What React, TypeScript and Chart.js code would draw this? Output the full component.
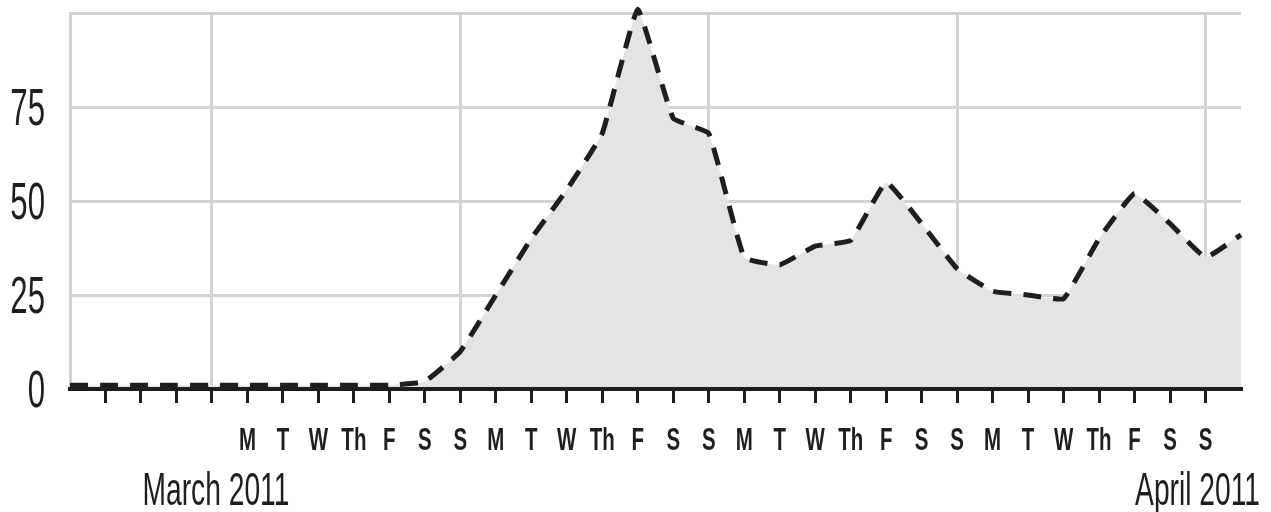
import React, { useEffect, useRef } from 'react';
import { Chart, registerables } from 'chart.js';

Chart.register(...registerables);

// Day-of-week tick labels (one per day, first days unlabeled)
const dayLabels: string[] = [
  '', '', '', '', '',
  'M', 'T', 'W', 'Th', 'F', 'S', 'S',
  'M', 'T', 'W', 'Th', 'F', 'S', 'S',
  'M', 'T', 'W', 'Th', 'F', 'S', 'S',
  'M', 'T', 'W', 'Th', 'F', 'S', 'S',
  '',
];

// Daily values
const dailyValues: number[] = [
  1, 1, 1, 1, 1, 1, 1, 1, 1, 1,
  2, 10, 25, 40, 53, 68, 101, 72, 68, 35,
  33, 38, 39.5, 55, 44, 32, 26, 25, 24, 40,
  52, 44, 35, 41,
];

const yTickValues: number[] = [0, 25, 50, 75, 100];
const yTickLabels: string[] = ['0', '25', '50', '75', ''];

const monthLabels: string[] = ['March 2011', 'April 2011'];

const FONT = "'Liberation Sans', Arial, sans-serif";
const GRID = '#d3d3d3';
const INK = '#1e1e1e';

function squeezedText(
  ctx: CanvasRenderingContext2D,
  text: string,
  x: number,
  y: number,
  align: 'left' | 'center' | 'right',
  squeeze: number,
) {
  const w = ctx.measureText(text).width * squeeze;
  let left = x;
  if (align === 'center') left = x - w / 2;
  else if (align === 'right') left = x - w;
  ctx.save();
  ctx.translate(left, y);
  ctx.scale(squeeze, 1);
  ctx.textAlign = 'left';
  ctx.fillText(text, 0, 0);
  ctx.restore();
}

const labelPlugin = {
  id: 'condensedLabels',
  afterDraw(chart: any) {
    const { ctx } = chart;
    const xs = chart.scales.x;
    const ys = chart.scales.y;
    const area = chart.chartArea;
    ctx.save();
    ctx.fillStyle = INK;
    ctx.textBaseline = 'alphabetic';

    // y tick labels
    ctx.font = `52px ${FONT}`;
    ys.ticks.forEach((t: any) => {
      const idx = yTickValues.indexOf(t.value);
      const text = idx >= 0 ? yTickLabels[idx] : '';
      if (!text) return;
      const py = ys.getPixelForValue(t.value);
      squeezedText(ctx, text, area.left - 25, py + 18, 'right', 0.6);
    });

    // day-of-week labels
    ctx.font = `bold 32px ${FONT}`;
    dayLabels.forEach((text, i) => {
      if (!text) return;
      squeezedText(ctx, text, xs.getPixelForTick(i), area.bottom + 61, 'center', 0.64);
    });

    // month labels
    ctx.font = `47px ${FONT}`;
    squeezedText(ctx, monthLabels[0], xs.getPixelForTick(4) + 4, area.bottom + 116, 'center', 0.6);
    squeezedText(ctx, monthLabels[1], area.right + 19, area.bottom + 116, 'right', 0.6);
    ctx.restore();
  },
};

export default function App() {
  const canvasRef = useRef<HTMLCanvasElement | null>(null);

  useEffect(() => {
    const canvas = canvasRef.current;
    if (!canvas) return;
    const chart = new Chart(canvas, {
      type: 'line',
      data: {
        labels: dayLabels.map((_, i) => String(i)),
        datasets: [
          {
            data: dailyValues,
            borderColor: INK,
            borderWidth: 5,
            borderDash: [18, 12],
            borderCapStyle: 'butt',
            borderJoinStyle: 'miter',
            backgroundColor: '#e3e5e5',
            fill: 'origin',
            pointRadius: 0,
            tension: 0.1,
            clip: false as any,
          },
        ],
      },
      options: {
        animation: false,
        responsive: true,
        maintainAspectRatio: false,
        layout: { padding: { top: 13, right: 30, left: 0, bottom: 0 } },
        plugins: {
          legend: { display: false },
          tooltip: { enabled: false },
        },
        scales: {
          x: {
            type: 'category',
            offset: false,
            afterFit: (s: any) => {
              s.height = 123;
              s.paddingLeft = 0;
              s.paddingRight = 0;
            },
            border: { display: true, color: INK, width: 4, z: 1 },
            grid: {
              color: (c: any) => (c.index % 7 === 4 ? GRID : 'rgba(0,0,0,0)'),
              lineWidth: 3,
              drawTicks: true,
              tickLength: 14,
              tickWidth: 3,
              tickColor: (c: any) => (c.index >= 1 && c.index <= 32 ? INK : 'rgba(0,0,0,0)'),
            },
            ticks: {
              display: false,
              autoSkip: false,
              maxRotation: 0,
              minRotation: 0,
              callback: (_v: any, i: number) => dayLabels[i],
            },
          },
          y: {
            type: 'linear',
            min: 0,
            max: 100,
            afterFit: (s: any) => {
              s.width = 70;
              s.paddingTop = 0;
              s.paddingBottom = 0;
            },
            afterBuildTicks: (s: any) => {
              s.ticks = yTickValues.map((v) => ({ value: v }));
            },
            border: { display: true, color: GRID, width: 3 },
            grid: {
              color: GRID,
              lineWidth: 3,
              drawTicks: false,
            },
            ticks: {
              display: false,
              callback: (v: any) => {
                const idx = yTickValues.indexOf(Number(v));
                return idx >= 0 ? yTickLabels[idx] : '';
              },
            },
          },
        },
      },
      plugins: [labelPlugin],
    });
    return () => chart.destroy();
  }, []);

  return (
    <div style={{ position: 'fixed', left: 0, top: 0, width: '1271px', height: '512px', background: '#fff' }}>
      <canvas ref={canvasRef} />
    </div>
  );
}
